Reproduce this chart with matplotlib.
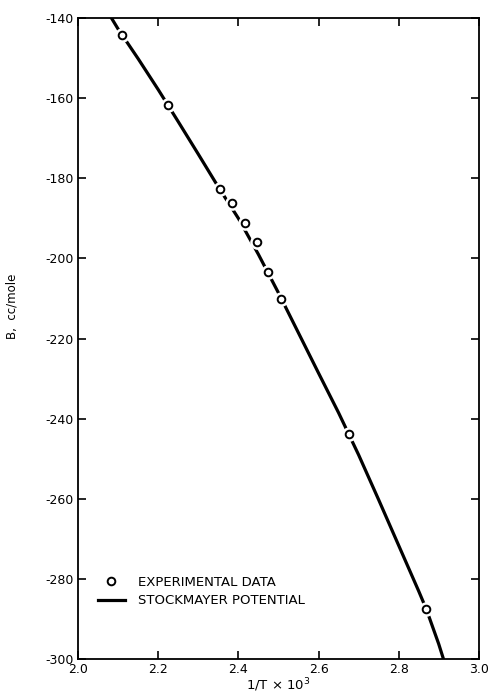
import matplotlib
matplotlib.use('Agg')
import matplotlib.pyplot as plt

plt.rcParams['axes.unicode_minus'] = False

# experimental points
exp_x = [2.110, 2.224, 2.354, 2.384, 2.416, 2.446, 2.474, 2.506, 2.676, 2.869]
exp_b = [-144.2, -161.7, -182.6, -186.1, -191.1, -195.8, -203.5, -210.0, -243.9, -287.5]

# Stockmayer potential curve
curve_x = [2.083, 2.10, 2.15, 2.20, 2.25, 2.30, 2.35, 2.40, 2.45, 2.50, 2.55, 2.60,
           2.65, 2.70, 2.75, 2.80, 2.85, 2.869, 2.90, 2.912]
curve_b = [-140.0, -142.8, -150.2, -157.9, -165.9, -174.0, -182.2, -190.0, -199.0,
           -208.6, -218.6, -228.6, -238.5, -249.0, -260.2, -271.6, -283.0, -287.5,
           -296.2, -300.0]

fig = plt.figure(figsize=(4.89, 6.96), dpi=100)
ax = fig.add_axes([0.16, 0.053, 0.819, 0.921])

ax.plot(curve_x, curve_b, color='black', lw=2.3, zorder=2, label='STOCKMAYER POTENTIAL')
# white halo so the line breaks around each circle
ax.plot(exp_x, exp_b, 'o', ms=9.5, color='white', mec='white', zorder=3)
ax.plot(exp_x, exp_b, 'o', ms=5.5, mfc='white', mec='black', mew=1.4, zorder=4,
        label='EXPERIMENTAL DATA')

ax.set_xlim(2.0, 3.0)
ax.set_ylim(-300, -140)
ax.set_xticks([2.0, 2.2, 2.4, 2.6, 2.8, 3.0])
ax.set_yticks(range(-300, -139, 20))
ax.tick_params(direction='in', top=True, right=True, length=6, width=1.2,
               labelsize=9, pad=3)
for s in ax.spines.values():
    s.set_linewidth(1.3)

ax.set_xlabel('1/T \u00d7 10$^3$', fontsize=9.5, labelpad=0)
ax.set_ylabel('B,  cc/mole', fontsize=8.5)
ax.yaxis.set_label_coords(-0.15, 0.55)

h, l = ax.get_legend_handles_labels()
ax.legend([h[1], h[0]], [l[1], l[0]], loc='lower left', bbox_to_anchor=(0.02, 0.062),
          frameon=False, fontsize=9.5, handlelength=2.0, labelspacing=0.45,
          handletextpad=1.0)

fig.savefig('out.png', dpi=100)
